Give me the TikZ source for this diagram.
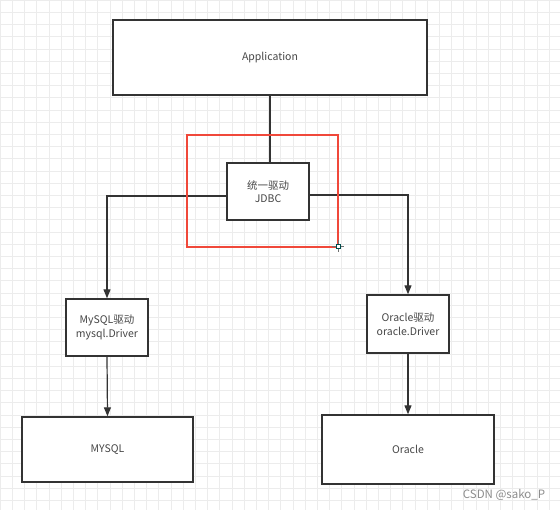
\documentclass[tikz,border=0pt]{standalone}
\usepackage{fontspec}
\setmainfont{Noto Sans CJK SC}
\usepackage{tikz}
\usetikzlibrary{arrows.meta,positioning,calc}
\definecolor{boxLine}{RGB}{51,51,51}
\definecolor{txtGray}{RGB}{70,70,70}
\definecolor{selRed}{RGB}{240,72,58}
\definecolor{gridGray}{RGB}{236,236,236}

\begin{document}
\begin{tikzpicture}[x=1pt, y=-1pt,
    box/.style={draw=boxLine, line width=1.4pt, fill=white, inner sep=0pt,
        align=center, text=txtGray, font=\fontsize{10.5}{13.5}\selectfont},
    link/.style={draw=boxLine, line width=1.2pt},
    arr/.style={link, -{Triangle[length=9pt, width=7pt]}}]
    \useasboundingbox (0,0) rectangle (560,510);
    \fill[white] (0,0) rectangle (560,510);
    \draw[gridGray, line width=0.5pt, step=12.2pt] (0,0) grid (560,510);

    % boxes
    \node[box, minimum width=314, minimum height=75] (app) at (270,57.5) {Application};
    \node[box, minimum width=82, minimum height=57] (jdbc) at (268,191.5) {统一驱动\\JDBC};
    \node[box, minimum width=82, minimum height=57] (mysqld) at (107,327.5) {MySQL驱动\\mysql.Driver};
    \node[box, minimum width=82, minimum height=58] (oracled) at (408,324) {Oracle驱动\\oracle.Driver};
    \node[box, minimum width=171, minimum height=65] (mysqldb) at (107.5,449.5) {MYSQL};
    \node[box, minimum width=172, minimum height=69] (oracledb) at (408,449.5) {Oracle};

    % connectors
    \draw[link] (app.south -| 270,0) -- (jdbc.north -| 270,0);
    \draw[arr] ([yshift=-4.5pt]jdbc.west) -| (mysqld.north);
    \draw[arr] ([yshift=-3.5pt]jdbc.east) -| (oracled.north);
    \draw[arr] (mysqld.south) -- (mysqldb.north);
    \draw[arr] (oracled.south) -- (oracledb.north);

    % selection frame
    \draw[selRed, line width=1.5pt] (187,135) rectangle (338,247);
    \coordinate (cursor) at (338,246);
    \draw[boxLine!70, line width=0.8pt] ($(cursor)+(-6,0)$) -- ($(cursor)+(6,0)$)
        ($(cursor)+(0,-6)$) -- ($(cursor)+(0,6)$);
    \draw[teal!60!black, fill=white, line width=0.8pt] ($(cursor)+(-2,-2)$) rectangle ($(cursor)+(2,2)$);

    \node[text=gray!90, font=\fontsize{11.5}{13}\selectfont] (mark) at (504,495) {CSDN @sako\_P};
\end{tikzpicture}
\end{document}
